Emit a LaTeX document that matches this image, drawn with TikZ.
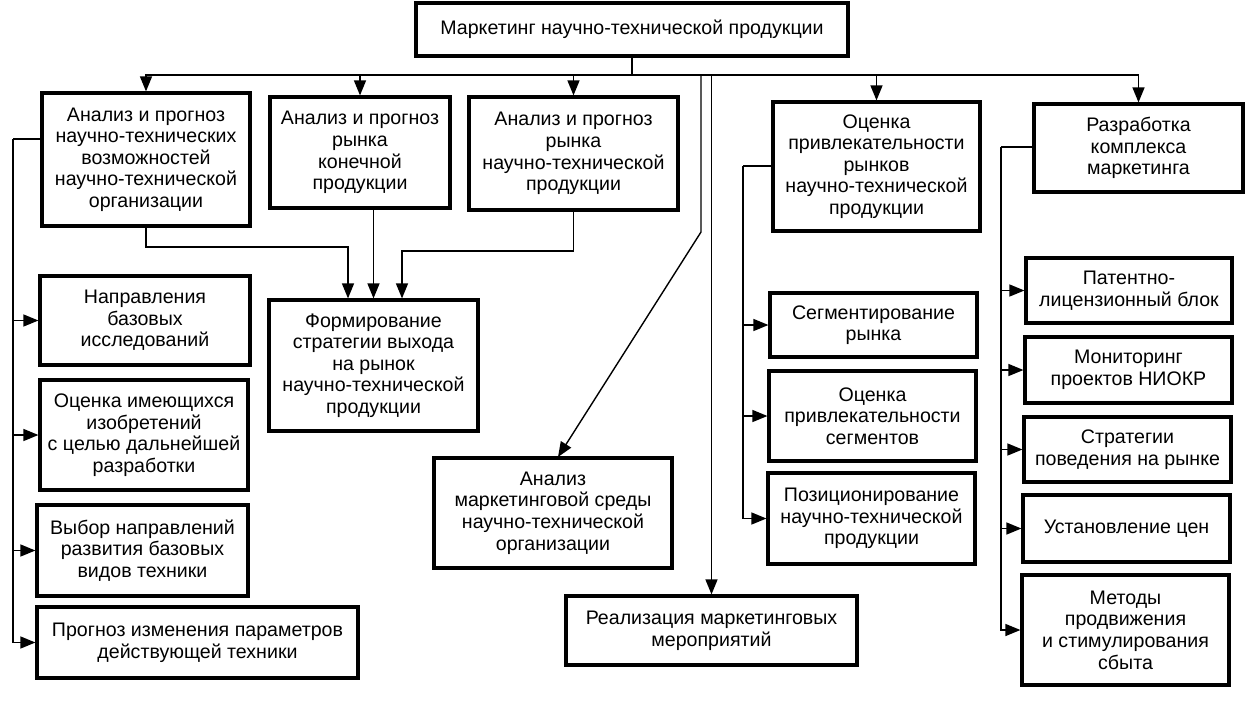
\documentclass[tikz,border=0pt]{standalone}
\usepackage{fontspec}
\setmainfont{Liberation Sans}
\usetikzlibrary{arrows.meta}
\begin{document}
\begin{tikzpicture}[x=1pt,y=-1pt,
  box/.style={draw, line width=3.2pt, inner sep=0pt, align=center,
    font=\fontsize{19.6}{21.6}\selectfont},
  conn/.style={line width=1.4pt},
  arr/.style={conn, -{Triangle[length=15pt,width=12pt]}}]
\useasboundingbox (0,0) rectangle (1253,710);
\fill[white] (0,0) rectangle (1253,710);

% top
\node[box, minimum width=432pt, minimum height=53pt] (top) at (632,29.5) {Маркетинг научно-технической продукции};

% first row
\node[box, minimum width=208pt, minimum height=133pt] (A1) at (146,159.5) {Анализ и прогноз\\научно-технических\\возможностей\\научно-технической\\организации};
\node[box, minimum width=180pt, minimum height=111pt] (A2) at (360,152.5) {Анализ и прогноз\\рынка\\конечной\\продукции};
\node[box, minimum width=209pt, minimum height=113pt] (A3) at (573.5,153.5) {Анализ и прогноз\\рынка\\научно-технической\\продукции};
\node[box, minimum width=207pt, minimum height=129pt] (B1) at (876.5,166.5) {Оценка\\привлекательности\\рынков\\научно-технической\\продукции};
\node[box, minimum width=209pt, minimum height=88pt] (C1) at (1138.5,148) {Разработка\\комплекса\\маркетинга};

% middle
\node[box, minimum width=209pt, minimum height=131pt] (F) at (373.5,365.5) {Формирование\\стратегии выхода\\на рынок\\научно-технической\\продукции};
\node[box, minimum width=238pt, minimum height=110pt] (M) at (553,513) {Анализ\\маркетинговой среды\\научно-технической\\организации};
\node[box, minimum width=291pt, minimum height=69pt] (R) at (711.5,630.5) {Реализация маркетинговых\\мероприятий};

% left column
\node[box, minimum width=210pt, minimum height=89pt] (L1) at (145,320.5) {Направления\\базовых\\исследований};
\node[box, minimum width=208pt, minimum height=110pt] (L2) at (144,435) {Оценка имеющихся\\изобретений\\с целью дальнейшей\\разработки};
\node[box, minimum width=211pt, minimum height=91pt] (L3) at (142.5,550.5) {Выбор направлений\\развития базовых\\видов техники};
\node[box, minimum width=321pt, minimum height=71pt] (L4) at (197.5,642.5) {Прогноз изменения параметров\\действующей техники};

% B column
\node[box, minimum width=207pt, minimum height=64pt] (B2) at (873.5,325) {Сегментирование\\рынка};
\node[box, minimum width=207pt, minimum height=90pt] (B3) at (872.5,416) {Оценка\\привлекательности\\сегментов};
\node[box, minimum width=207pt, minimum height=91pt] (B4) at (871.5,518.5) {Позиционирование\\научно-технической\\продукции};

% C column
\node[box, minimum width=206pt, minimum height=65pt] (C2) at (1129,290.5) {Патентно-\\лицензионный блок};
\node[box, minimum width=207pt, minimum height=66pt] (C3) at (1128.5,370) {Мониторинг\\проектов НИОКР};
\node[box, minimum width=207pt, minimum height=65pt] (C4) at (1127.5,449.5) {Стратегии\\поведения на рынке};
\node[box, minimum width=207pt, minimum height=67pt] (C5) at (1126.5,528.5) {Установление цен};
\node[box, minimum width=207pt, minimum height=110pt] (C6) at (1125.5,630) {Методы\\продвижения\\и стимулирования\\сбыта};

% bus
\coordinate (bus) at (632,75);
\draw[conn] (top.south) -- (bus);
\draw[arr] (bus) -| (A1.north);
\draw[arr] (bus) -| (A2.north);
\draw[arr] (bus) -| (A3.north);
\draw[arr] (bus) -| (B1.north);
\draw[arr] (bus) -| (C1.north);

% diagonal to M
\coordinate (d1) at (701,75);
\coordinate (d2) at (701,232);
\coordinate (mt) at (558,457);
\draw[arr] (d1) -- (d2) -- (mt);
% to R
\draw[arr] (R.north |- bus) -- (R.north);

% to F
\coordinate (f1) at (348,247);
\coordinate (f3) at (402,251);
\draw[arr] (A1.south) |- (f1) -- (f1 |- F.north);
\draw[arr] (F.north |- A2.south) -- (F.north);
\draw[arr] (A3.south) |- (f3) -- (f3 |- F.north);

% left column
\coordinate (lx) at (13,139);
\draw[conn] (A1.west |- lx) -- (lx);
\draw[arr] (lx) |- (L1.west);
\draw[arr] (lx) |- (L2.west);
\draw[arr] (lx) |- (L3.west);
\draw[arr] (lx) |- (L4.west);

% B column
\coordinate (bx) at (743,166);
\draw[conn] (B1.west |- bx) -- (bx);
\draw[arr] (bx) |- (B2.west);
\draw[arr] (bx) |- (B3.west);
\draw[arr] (bx) |- (B4.west);

% C column
\coordinate (cx) at (1001,147);
\draw[conn] (C1.west |- cx) -- (cx);
\draw[arr] (cx) |- (C2.west);
\draw[arr] (cx) |- (C3.west);
\draw[arr] (cx) |- (C4.west);
\draw[arr] (cx) |- (C5.west);
\draw[arr] (cx) |- (C6.west);
\end{tikzpicture}
\end{document}
